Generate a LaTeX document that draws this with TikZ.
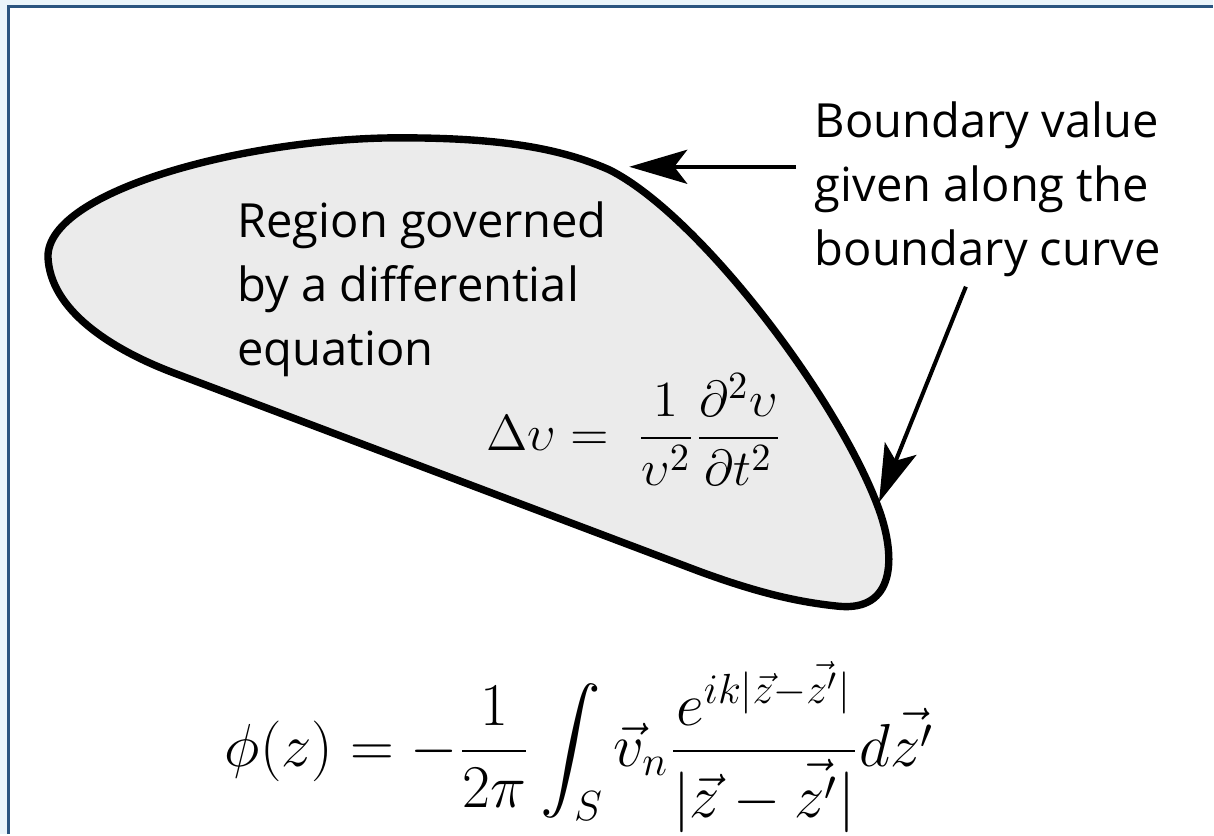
\documentclass[tikz,border=0pt]{standalone}
\usepackage{amsmath}
\usepackage{fontspec}
\setsansfont{Open Sans}
\usetikzlibrary{arrows.meta,positioning}
\definecolor{framebg}{HTML}{EAF5FB}
\definecolor{frameline}{HTML}{2A5580}
\definecolor{regionfill}{HTML}{EBEBEB}

\begin{document}
\begin{tikzpicture}[
  font=\sffamily\fontsize{13.4}{18.2}\selectfont,
  x=0.01cm, y=-0.01cm,
  txt/.style={align=left, inner sep=0pt, anchor=north west},
  eqn/.style={inner sep=0pt},
  outline/.style={line width=2.1pt, fill=regionfill, line join=round},
  arrow/.style={-{Stealth[length=5.8mm, width=3.4mm, inset=1.3mm]}, line width=1.15pt}
]
% frame
\fill[framebg] (0,0) rectangle (1214,835);
\fill[white] (9,6.5) rectangle (1214,835);
\draw[frameline, line width=0.8pt] (8.8,835) -- (8.8,6.3) -- (1214,6.3);
\useasboundingbox (0,0) rectangle (1214,835);

% region
\draw[outline] (48,257) .. controls (48,190) and (250,138) .. (400,138)
  .. controls (500,138) and (560,148) .. (610,170)
  .. controls (700,215) and (840,400) .. (880,510)
  .. controls (898,560) and (895,612) .. (840,607)
  .. controls (800,603) and (760,594) .. (700,572)
  -- (173,373)
  .. controls (110,349) and (50,310) .. (48,257) -- cycle;

\node[txt] (region) at (237,201) {Region governed\\by a differential\\equation};
\node[eqn, font=\fontsize{15.4}{18}\selectfont] (wave) at (635,430)
  {$\displaystyle \Delta\upsilon =\; \frac{1}{\upsilon^2}\frac{\partial^2\upsilon}{\partial t^2}$};

% boundary
\node[txt] (bval) at (815,101) {Boundary value\\given along the\\boundary curve};
\coordinate (valtail) at (797,167);
\coordinate (valtip) at (630,167);
\coordinate (curvetail) at (967,287);
\coordinate (curvetip) at (880,503);
\draw[arrow] (valtail) -- (valtip);
\draw[arrow] (curvetail) -- (curvetip);

% solution
\node[eqn, font=\fontsize{17.2}{20}\selectfont] (kirch) at (580,748)
  {$\displaystyle \phi(z) = -\frac{1}{2\pi}\int_S \vec{v}_n \frac{e^{ik|\vec{z}-\vec{z'}|}}{|\vec{z}-\vec{z'}|}d\vec{z'}$};
\end{tikzpicture}
\end{document}
